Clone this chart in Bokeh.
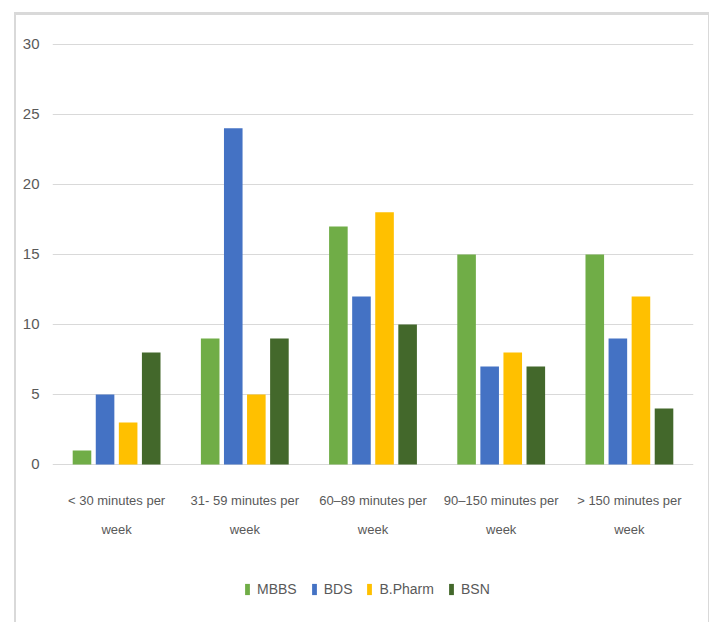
from bokeh.plotting import figure
from bokeh.models import FactorRange, Range1d, ColumnDataSource, Legend, LegendItem, FixedTicker
from bokeh.transform import dodge
from bokeh.embed import file_html
from bokeh.resources import INLINE

categories = [
    "< 30 minutes per\nweek",
    "31- 59 minutes per\nweek",
    "60\u201389 minutes per\nweek",
    "90\u2013150 minutes per\nweek",
    "> 150 minutes per\nweek",
]
series_names = ["MBBS", "BDS", "B.Pharm", "BSN"]
mbbs = [1, 9, 17, 15, 15]
bds = [5, 24, 12, 7, 9]
bpharm = [3, 5, 18, 8, 12]
bsn = [8, 9, 10, 7, 4]
y_ticks = [0, 5, 10, 15, 20, 25, 30]

colors = ["#70AD47", "#4472C4", "#FFC000", "#43682B"]
offsets = [-0.27, -0.09, 0.09, 0.27]
FONT = "Liberation Sans"
TXT = "#595959"

source = ColumnDataSource(dict(cat=categories, MBBS=mbbs, BDS=bds, BPharm=bpharm, BSN=bsn))
cols = ["MBBS", "BDS", "BPharm", "BSN"]

p = figure(
    x_range=FactorRange(factors=categories, range_padding=0),
    y_range=Range1d(-11.14, 30.2),
    width=695, height=610,
    output_backend="svg", toolbar_location=None,
    min_border_left=36, min_border_right=18, min_border_top=26, min_border_bottom=5,
    styles={"margin-left": "14px", "margin-top": "12px",
            "border-left": "2px solid #d9d9d9", "border-top": "3px solid #d9d9d9",
            "border-right": "1px solid #d9d9d9"},
)
p.outline_line_color = None
p.background_fill_color = "white"
p.border_fill_color = "white"

renderers = []
for col, name, c, off in zip(cols, series_names, colors, offsets):
    r = p.vbar(x=dodge("cat", off, range=p.x_range), top=col, width=0.145,
               source=source, fill_color=c, line_color=None)
    renderers.append((name, r))

p.xgrid.grid_line_color = None
p.ygrid.ticker = FixedTicker(ticks=y_ticks)
p.ygrid.grid_line_color = "#d9d9d9"
p.ygrid.grid_line_width = 1

p.yaxis.ticker = FixedTicker(ticks=y_ticks)
p.yaxis.axis_line_color = None
p.yaxis.major_tick_line_color = None
p.yaxis.minor_tick_line_color = None
p.yaxis.major_tick_out = 0
p.yaxis.major_tick_in = 0
p.yaxis.major_label_standoff = 13
p.yaxis.major_label_text_font = FONT
p.yaxis.major_label_text_font_size = "15px"
p.yaxis.major_label_text_color = TXT

p.xaxis.fixed_location = 0
p.xaxis.axis_line_color = None
p.xaxis.major_tick_line_color = None
p.xaxis.major_tick_out = 0
p.xaxis.major_tick_in = 0
p.xaxis.major_label_standoff = 29
p.xaxis.major_label_text_font = FONT
p.xaxis.major_label_text_font_size = "13px"
p.xaxis.major_label_text_color = TXT
p.xaxis.major_label_text_line_height = 1.9

legend = Legend(items=[LegendItem(label=n, renderers=[r]) for n, r in renderers],
                orientation="horizontal", location=(192, 23),
                glyph_width=6, glyph_height=14, label_standoff=7, spacing=14,
                label_text_font=FONT, label_text_font_size="14px", label_text_color=TXT,
                border_line_color=None, background_fill_alpha=0, margin=0, padding=5)
p.add_layout(legend, "center")

open("out.html", "w").write(file_html(p, INLINE))
